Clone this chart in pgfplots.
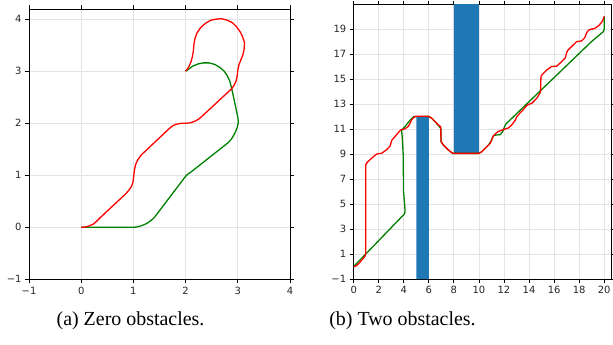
\documentclass[border=0pt]{standalone}
\usepackage{pgfplots}
\pgfplotsset{compat=1.18}
\usepackage{fontspec}
\setmainfont{Liberation Serif}
\newfontfamily\tickfont{DejaVu Sans}
\definecolor{obst}{HTML}{1F77B4}
\definecolor{pgreen}{HTML}{008000}
\definecolor{pred}{HTML}{FF0000}
\definecolor{gridc}{HTML}{E4E4E4}
\pgfplotsset{
  mystyle/.style={
    scale only axis,
    anchor=south west,
    axis line style={line width=0.8bp, black},
    tick align=outside,
    major tick length=4bp,
    major tick style={line width=0.8bp, black},
    grid=major,
    major grid style={line width=0.8bp, gridc},
    ticklabel style={font=\tickfont\fontsize{10}{12}\selectfont, text=black!85},
    /pgf/number format/assume math mode=true,
  },
  gpath/.style={pgreen, line width=1.3bp, line join=round, mark=none},
  rpath/.style={pred, line width=1.3bp, line join=round, mark=none},
}
\begin{document}
\begin{tikzpicture}
\useasboundingbox (0,0) rectangle (613bp,-345bp);
\begin{axis}[mystyle, at={(29bp,-279.3bp)}, width=261bp, height=270bp,
  xmin=-1, xmax=4, ymin=-1, ymax=4.19,
  xtick={-1,0,1,2,3,4}, ytick={-1,0,1,2,3,4},
  xticklabels={−1,0,1,2,3,4}, yticklabels={−1,0,1,2,3,4}]
\addplot[gpath] coordinates {(0,0) (0.5,0) (1.0,0) (1.06,0.005) (1.12,0.02) (1.18,0.04) (1.25,0.07) (1.31,0.11) (1.36,0.15) (1.41,0.2) (2.0,0.98) (2.04,1.02) (2.1,1.06) (2.82,1.63) (2.88,1.7) (2.94,1.8) (2.99,1.92) (3.01,2.02) (3.0,2.12) (2.88,2.68) (2.85,2.8) (2.8,2.91) (2.74,3.0) (2.66,3.07) (2.56,3.13) (2.45,3.16) (2.34,3.16) (2.24,3.14) (2.14,3.1) (2.06,3.04) (2.0,3.0)};
\addplot[rpath] coordinates {(0,0) (0.08,0.005) (0.16,0.03) (0.23,0.06) (0.29,0.11) (0.34,0.16) (0.38,0.2) (0.86,0.65) (0.92,0.72) (0.96,0.78) (0.99,0.86) (1.0,0.93) (1.01,1.02) (1.02,1.1) (1.04,1.2) (1.08,1.29) (1.15,1.39) (1.69,1.9) (1.75,1.95) (1.82,1.98) (1.92,2.0) (2.02,2.0) (2.1,2.01) (2.18,2.04) (2.25,2.08) (2.31,2.13) (2.88,2.66) (2.93,2.73) (2.97,2.82) (2.99,2.92) (3.0,3.02) (3.02,3.12) (3.06,3.22) (3.1,3.32) (3.12,3.42) (3.13,3.54) (3.1,3.64) (3.05,3.75) (2.98,3.85) (2.9,3.93) (2.8,3.98) (2.69,4.01) (2.58,4.0) (2.48,3.98) (2.38,3.92) (2.29,3.84) (2.22,3.74) (2.18,3.63) (2.16,3.52) (2.15,3.4) (2.13,3.28) (2.1,3.17) (2.06,3.08) (2.0,3.0)};
\end{axis}
\begin{axis}[mystyle, at={(353.7bp,-279bp)}, width=258bp, height=274.3bp,
  xmin=0, xmax=20.6, ymin=-1, ymax=20.94,
  xtick={0,2,4,6,8,10,12,14,16,18,20}, ytick={-1,1,3,5,7,9,11,13,15,17,19},
  yticklabels={−1,1,3,5,7,9,11,13,15,17,19}]
\addplot[fill=obst, draw=none] coordinates {(5,-1) (6,-1) (6,12) (5,12) (5,-1)};
\addplot[fill=obst, draw=none] coordinates {(8,9) (10,9) (10,22) (8,22) (8,9)};
\addplot[gpath] coordinates {(0,0) (4.05,4.2) (4.1,4.4) (4.08,4.8) (3.98,6.0) (3.95,9.0) (3.88,10.3) (3.82,10.9) (4.1,11.2) (4.5,11.7) (4.8,12.0) (5.97,12.0) (6.23,11.86) (6.8,11.25) (6.97,11.0) (6.97,10.0) (7.16,9.72) (7.56,9.32) (7.9,9.05) (10.0,9.05) (10.25,9.2) (10.75,9.7) (11.0,10.1) (11.1,10.4) (11.25,10.5) (11.7,10.55) (11.9,10.8) (12.05,11.2) (12.15,11.4) (19.0,18.0) (19.95,18.8) (20.0,19.0) (20.0,20.0)};
\addplot[rpath] coordinates {(0,0) (0.15,0.02) (0.37,0.2) (0.77,0.66) (0.92,0.85) (0.96,1.05) (0.96,8.12) (1.05,8.3) (1.17,8.42) (1.57,8.78) (1.84,9.0) (2.24,9.06) (2.64,9.35) (2.9,9.62) (2.98,9.9) (3.04,10.1) (3.3,10.4) (3.75,10.92) (4.1,11.02) (4.36,11.2) (4.5,11.46) (4.62,11.72) (4.76,11.9) (4.98,12.02) (5.96,12.02) (6.23,11.86) (6.76,11.32) (6.95,11.18) (6.97,10.0) (7.16,9.72) (7.56,9.32) (7.9,9.05) (10.0,9.05) (10.25,9.2) (10.62,9.58) (10.9,9.85) (11.02,10.12) (11.15,10.45) (11.35,10.65) (11.55,10.8) (11.95,10.95) (12.35,11.08) (12.6,11.3) (12.9,11.7) (13.02,11.98) (13.3,12.3) (13.55,12.55) (13.82,12.88) (14.0,12.98) (14.22,13.05) (14.62,13.46) (14.92,13.95) (14.95,15.2) (15.05,15.35) (15.42,15.72) (15.8,16.0) (16.2,16.02) (16.6,16.38) (16.9,16.7) (17.0,17.1) (17.1,17.3) (17.45,17.65) (17.8,17.98) (18.2,18.05) (18.45,18.3) (18.6,18.7) (18.75,18.9) (19.0,19.0) (19.2,19.02) (19.55,19.25) (19.85,19.6) (20.0,20.0)};
\end{axis}
\node[anchor=base, font=\fontsize{20}{24}\selectfont] at (130.5bp,-325bp) {(a) Zero obstacles.};
\node[anchor=base, font=\fontsize{20}{24}\selectfont] at (402.5bp,-325bp) {(b) Two obstacles.};
\end{tikzpicture}
\end{document}
